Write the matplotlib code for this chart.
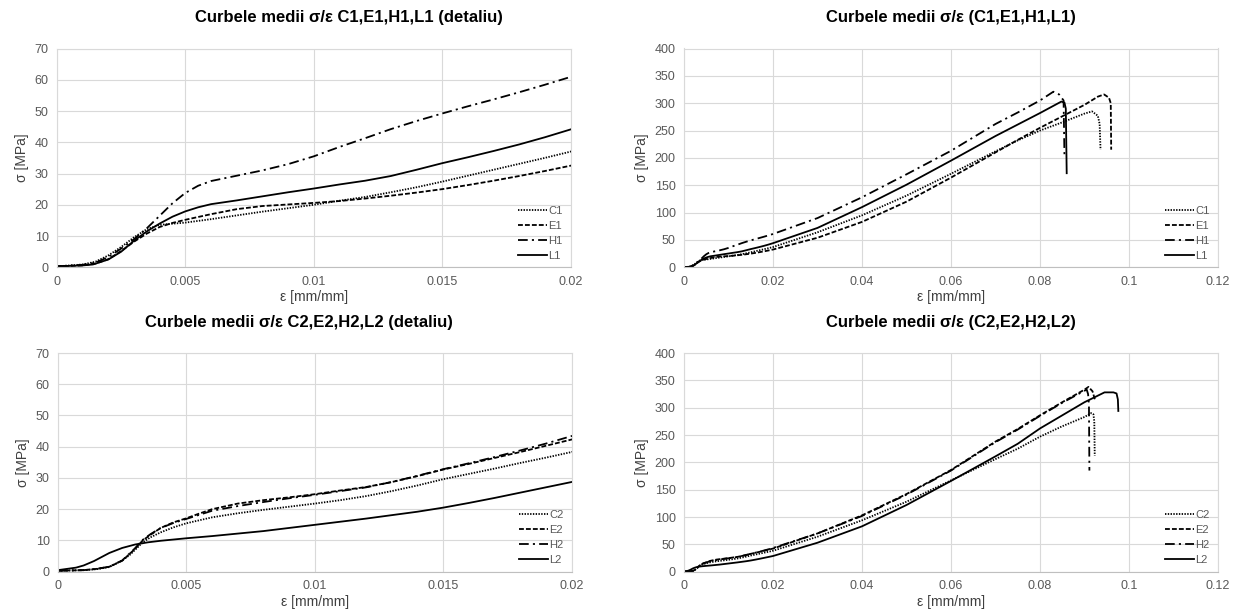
import numpy as np
import matplotlib
matplotlib.use("Agg")
import matplotlib.pyplot as plt

plt.rcParams['font.family'] = ['Liberation Sans', 'DejaVu Sans']
plt.rcParams['lines.scale_dashes'] = False

# ---- data (strain [mm/mm], stress [MPa]) ----
c1_eps = [0, 0.001, 0.0015, 0.002, 0.0025, 0.003, 0.0035, 0.004, 0.005, 0.006, 0.007, 0.008, 0.009,
          0.01, 0.011, 0.012, 0.013, 0.014, 0.015, 0.016, 0.017, 0.018, 0.019, 0.02,
          0.03, 0.04, 0.05, 0.06, 0.07, 0.075, 0.08, 0.085, 0.09, 0.0917, 0.093, 0.0934, 0.0936]
c1_sig = [0.3, 0.9, 1.8, 3.8, 6.5, 9.6, 12.2, 13.6, 14.3, 15.4, 16.6, 17.8, 18.9,
          20.0, 21.3, 22.5, 24.0, 25.6, 27.4, 29.3, 31.2, 33.1, 35.0, 37.0,
          64, 95, 131, 171, 212, 232, 250, 265, 281, 285, 277, 262, 215]

e1_eps = [0, 0.001, 0.0015, 0.002, 0.0025, 0.003, 0.0035, 0.004, 0.0045, 0.005, 0.006, 0.007, 0.008,
          0.009, 0.01, 0.011, 0.012, 0.013, 0.014, 0.015, 0.016, 0.017, 0.018, 0.019, 0.02,
          0.03, 0.04, 0.05, 0.06, 0.07, 0.075, 0.08, 0.085, 0.09, 0.093, 0.0944, 0.0955, 0.0959, 0.096]
e1_sig = [0.3, 0.6, 1.2, 2.6, 5.2, 8.2, 10.8, 12.9, 14.2, 15.2, 17.0, 18.6, 19.6,
          20.1, 20.6, 21.2, 22.0, 22.9, 23.9, 25.0, 26.3, 27.7, 29.2, 30.8, 32.5,
          54, 83, 120, 164, 210, 233, 255, 276, 297, 312, 316, 310, 300, 215]

h1_eps = [0, 0.001, 0.0015, 0.002, 0.0025, 0.003, 0.0035, 0.004, 0.0045, 0.005, 0.0055, 0.006, 0.007,
          0.008, 0.009, 0.01, 0.011, 0.012, 0.013, 0.014, 0.015, 0.016, 0.017, 0.018, 0.019, 0.02,
          0.03, 0.04, 0.05, 0.06, 0.07, 0.075, 0.08, 0.083, 0.0843, 0.0853, 0.0855]
h1_sig = [0.3, 0.8, 1.5, 3.3, 6.0, 9.0, 12.5, 16.5, 20.5, 23.8, 26.1, 27.6, 29.3,
          31.0, 33.0, 35.5, 38.5, 41.3, 44.2, 46.8, 49.2, 51.5, 53.7, 56.0, 58.4, 60.9,
          90, 128, 170, 213, 262, 283, 305, 321, 316, 305, 200]

l1_eps = [0, 0.001, 0.0014, 0.002, 0.0025, 0.003, 0.0035, 0.004, 0.0045, 0.005, 0.0055, 0.006, 0.007,
          0.008, 0.009, 0.01, 0.011, 0.012, 0.013, 0.014, 0.015, 0.016, 0.017, 0.018, 0.019, 0.02,
          0.03, 0.04, 0.05, 0.06, 0.07, 0.075, 0.08, 0.0848, 0.0855, 0.0858, 0.086]
l1_sig = [0.3, 0.6, 0.9, 2.5, 5.0, 8.5, 11.5, 14.0, 16.2, 17.9, 19.2, 20.2, 21.4,
          22.7, 24.0, 25.2, 26.5, 27.7, 29.2, 31.2, 33.3, 35.2, 37.2, 39.3, 41.6, 44.1,
          72, 110, 151, 195, 240, 261, 282, 303, 301, 290, 172]

c2_eps = [0, 0.001, 0.0015, 0.002, 0.0025, 0.0028, 0.003, 0.0033, 0.0036, 0.004, 0.0045, 0.005, 0.006,
          0.007, 0.008, 0.009, 0.01, 0.011, 0.012, 0.013, 0.014, 0.015, 0.016, 0.017, 0.018, 0.019, 0.02,
          0.03, 0.04, 0.05, 0.06, 0.07, 0.075, 0.08, 0.085, 0.09, 0.0915, 0.092, 0.0922, 0.0923]
c2_sig = [0.3, 0.5, 0.8, 1.5, 3.6, 5.4, 7.0, 9.4, 11.0, 12.6, 14.2, 15.5, 17.4,
          18.7, 19.8, 20.8, 21.8, 22.9, 24.2, 25.8, 27.6, 29.6, 31.3, 33.0, 34.8, 36.5, 38.3,
          64, 94, 128, 167, 206, 225, 247, 266, 283, 290, 288, 275, 212]

e2_eps = [0, 0.001, 0.0015, 0.002, 0.0025, 0.003, 0.0033, 0.0036, 0.004, 0.0045, 0.005, 0.0055, 0.006,
          0.007, 0.008, 0.009, 0.01, 0.011, 0.012, 0.013, 0.014, 0.015, 0.016, 0.017, 0.018, 0.019, 0.02,
          0.03, 0.04, 0.05, 0.06, 0.07, 0.075, 0.08, 0.085, 0.09, 0.0909, 0.0918, 0.0924]
e2_sig = [0.3, 0.5, 0.9, 1.6, 3.5, 7.3, 10.0, 11.8, 14.0, 15.8, 17.1, 18.6, 20.0,
          21.8, 22.9, 23.8, 24.8, 26.0, 27.1, 28.7, 30.6, 32.7, 34.5, 36.4, 38.3, 40.3, 42.3,
          70, 103, 142, 186, 238, 261, 286, 310, 333, 338, 330, 313]

h2_eps = [0, 0.001, 0.0015, 0.002, 0.0025, 0.003, 0.0033, 0.0036, 0.004, 0.0045, 0.005, 0.0055, 0.006,
          0.007, 0.008, 0.009, 0.01, 0.011, 0.012, 0.013, 0.014, 0.015, 0.016, 0.017, 0.018, 0.019, 0.02,
          0.03, 0.04, 0.05, 0.06, 0.07, 0.075, 0.08, 0.085, 0.09, 0.0905, 0.0908, 0.091, 0.0911]
h2_sig = [0.3, 0.5, 0.9, 1.6, 3.6, 7.5, 10.2, 12.0, 14.0, 15.6, 16.9, 18.2, 19.5,
          21.0, 22.3, 23.5, 24.6, 25.8, 27.0, 28.7, 30.7, 32.8, 34.7, 36.7, 38.8, 41.0, 43.4,
          70, 102, 141, 185, 237, 260, 285, 309, 331, 333, 325, 306, 185]

l2_eps = [0, 0.0007, 0.001, 0.0014, 0.002, 0.0025, 0.003, 0.0035, 0.004, 0.005, 0.006, 0.007, 0.008,
          0.009, 0.01, 0.011, 0.012, 0.013, 0.014, 0.015, 0.016, 0.017, 0.018, 0.019, 0.02,
          0.03, 0.04, 0.05, 0.06, 0.07, 0.075, 0.08, 0.09, 0.094, 0.0945, 0.0965, 0.0972, 0.0975, 0.0976]
l2_sig = [0.5, 1.3, 2.0, 3.4, 6.0, 7.6, 8.7, 9.4, 9.9, 10.7, 11.4, 12.2, 13.0,
          14.0, 15.0, 16.0, 17.0, 18.1, 19.2, 20.5, 22.0, 23.6, 25.3, 27.0, 28.7,
          53, 83, 122, 166, 211, 234, 262, 310, 326, 328, 328, 326, 315, 294]

group1 = [('C1', c1_eps, c1_sig), ('E1', e1_eps, e1_sig), ('H1', h1_eps, h1_sig), ('L1', l1_eps, l1_sig)]
group2 = [('C2', c2_eps, c2_sig), ('E2', e2_eps, e2_sig), ('H2', h2_eps, h2_sig), ('L2', l2_eps, l2_sig)]

styles = [(0, (1.0, 1.0)), (0, (3.5, 1.5)), (0, (7, 3, 1.5, 3)), '-']

W, H = 1242, 615
fig = plt.figure(figsize=(W / 100, H / 100), dpi=100)


def box(x0, x1, ytop, ybot):
    return [x0 / W, 1 - ybot / H, (x1 - x0) / W, (ybot - ytop) / H]


def panel(rect, group, xmax, xstep, ymax, ystep, xfmt):
    ax = fig.add_axes(rect)
    for (name, e, s), ls in zip(group, styles):
        ax.plot(e, s, color='black', lw=1.3, linestyle=ls, label=name)
    ax.set_xlim(0, xmax)
    ax.set_ylim(0, ymax)
    xt = np.arange(0, xmax + xstep / 2, xstep)
    ax.set_xticks(xt)
    ax.set_xticklabels([xfmt(v) for v in xt])
    ax.set_yticks(np.arange(0, ymax + ystep / 2, ystep))
    ax.grid(True, color='#d9d9d9', lw=0.8)
    ax.set_axisbelow(True)
    for side in ['top', 'right', 'left']:
        ax.spines[side].set_color('#d9d9d9')
        ax.spines[side].set_linewidth(0.8)
    ax.spines['bottom'].set_color('#bfbfbf')
    ax.tick_params(length=0, labelsize=9, labelcolor='#595959', pad=6)
    ax.set_xlabel('ε [mm/mm]', fontsize=10, color='#404040', labelpad=2)
    ax.set_ylabel('σ [MPa]', fontsize=10, color='#404040', labelpad=4)
    leg = ax.legend(loc='lower right', bbox_to_anchor=(0.997, 0.0), frameon=False, fontsize=8,
                    handlelength=2.6, handletextpad=0.1, labelspacing=0.45, borderaxespad=0.2)
    for t in leg.get_texts():
        t.set_color('#595959')
    return ax


def fmt_tick(v):
    return '0' if v == 0 else ('%g' % round(v, 4))


panel(box(57, 570.5, 48.5, 267.3), group1, 0.02, 0.005, 70, 10, fmt_tick)
panel(box(684, 1218, 48.5, 267.3), group1, 0.12, 0.02, 400, 50, fmt_tick)
panel(box(58, 571.5, 353, 571.7), group2, 0.02, 0.005, 70, 10, fmt_tick)
panel(box(684, 1218, 353, 571.7), group2, 0.12, 0.02, 400, 50, fmt_tick)

tkw = dict(ha='center', va='center', fontsize=12, fontweight='bold', color='black')
fig.text(349 / W, 1 - 17.5 / H, 'Curbele medii σ/ε C1,E1,H1,L1 (detaliu)', **tkw)
fig.text(951 / W, 1 - 17.5 / H, 'Curbele medii σ/ε (C1,E1,H1,L1)', **tkw)
fig.text(299 / W, 1 - 322.5 / H, 'Curbele medii σ/ε C2,E2,H2,L2 (detaliu)', **tkw)
fig.text(951 / W, 1 - 322.5 / H, 'Curbele medii σ/ε (C2,E2,H2,L2)', **tkw)

fig.savefig('out.png', dpi=100, facecolor='white')
